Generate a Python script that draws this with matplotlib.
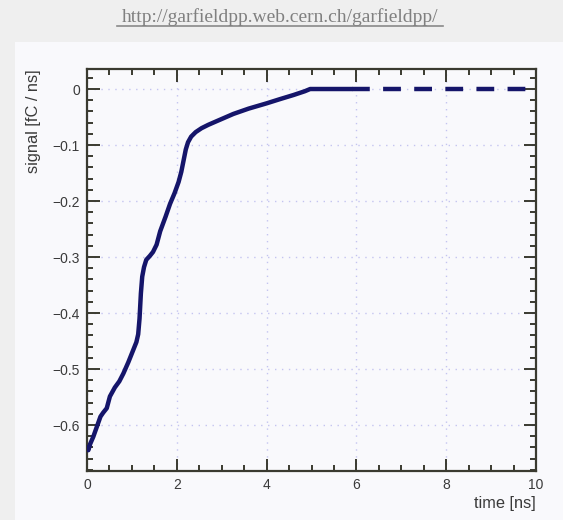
import numpy as np
import matplotlib.pyplot as plt
from matplotlib.ticker import MultipleLocator, FuncFormatter
from matplotlib.lines import Line2D

plt.rcParams['font.family'] = ['Liberation Sans', 'DejaVu Sans']

# induced signal on the wire, read out in fC/ns
time = [0.0, 0.03, 0.07, 0.14, 0.22, 0.3, 0.36, 0.44, 0.51, 0.62, 0.72,
        0.81, 0.92, 1.03, 1.1, 1.14, 1.17, 1.2, 1.23, 1.27, 1.32, 1.4,
        1.47, 1.55, 1.63, 1.75, 1.85, 1.95, 2.04, 2.1, 2.15, 2.2, 2.25,
        2.32, 2.42, 2.55, 2.7, 2.9, 3.26, 3.6, 4.0, 4.3, 4.6, 4.85, 4.97, 5.9]
signal = [-0.640, -0.645, -0.634, -0.621, -0.603, -0.585, -0.578, -0.570,
          -0.549, -0.533, -0.522, -0.508, -0.488, -0.466, -0.452, -0.438,
          -0.410, -0.365, -0.335, -0.318, -0.305, -0.298, -0.291, -0.278,
          -0.254, -0.228, -0.205, -0.186, -0.166, -0.148, -0.128, -0.108,
          -0.095, -0.085, -0.077, -0.070, -0.064, -0.057, -0.0445, -0.035,
          -0.0256, -0.018, -0.0107, -0.004, 0.0, 0.0]
# flat tail after the drift is over
tail_time = [5.9, 10.0]
tail_signal = [0.0, 0.0]

url = 'http://garfieldpp.web.cern.ch/garfieldpp/'

fig = plt.figure(figsize=(5.63, 5.2), dpi=100)
fig.patch.set_facecolor('#efefef')

# light panel behind the plot
panel = fig.add_axes([15 / 563, 0, 1 - 15 / 563, 1 - 42 / 520])
panel.set_facecolor('#f9f9fc')
panel.set_xticks([])
panel.set_yticks([])
for s in panel.spines.values():
    s.set_visible(False)

fig.text(280 / 563, 1 - 17 / 520, url, ha='center', va='center',
         fontsize=14, color='#808080', family=['Liberation Serif', 'DejaVu Serif'])
fig.add_artist(Line2D([117 / 563, 443 / 563], [1 - 25.5 / 520, 1 - 25.5 / 520],
                      color='#8a8a8a', lw=1.2, transform=fig.transFigure))

ax = fig.add_axes([87 / 563, 1 - 470.7 / 520, 449 / 563, 401.4 / 520])
ax.set_facecolor('#f9f9fc')
ax.set_xlim(0, 10)
ax.set_ylim(-0.6816, 0.0352)

ax.xaxis.set_major_locator(MultipleLocator(2))
ax.xaxis.set_minor_locator(MultipleLocator(0.5))
ax.yaxis.set_major_locator(MultipleLocator(0.1))
ax.yaxis.set_minor_locator(MultipleLocator(0.02))

def fmt(v, pos):
    if abs(v) < 1e-9:
        return '0'
    return ('%g' % v).replace('-', '\u2212')

ax.xaxis.set_major_formatter(FuncFormatter(fmt))
ax.yaxis.set_major_formatter(FuncFormatter(fmt))

spine_col = '#3a3a30'
for s in ax.spines.values():
    s.set_color(spine_col)
    s.set_linewidth(1.6)

ax.tick_params(which='both', direction='in', top=True, right=True,
               color=spine_col, width=1.4, labelsize=10, labelcolor='#3a3a3a')
ax.tick_params(which='major', length=9, pad=5)
ax.tick_params(which='minor', length=4.5)

ax.grid(True, which='major', linestyle=(0, (1, 4)), color='#c4c4f0', lw=1.0)
ax.set_axisbelow(True)

ax.plot(time, signal, color='#15156a', lw=3.2, solid_capstyle='round',
        solid_joinstyle='round', zorder=3)
ax.plot(tail_time, tail_signal, color='#15156a', lw=3.2,
        linestyle=(0, (4, 3)), zorder=3)

ax.set_xlabel('time [ns]', fontsize=11.8, color='#3a3a3a', loc='right', labelpad=3)
ax.set_ylabel('signal [fC / ns]', fontsize=11.8, color='#3a3a3a', loc='top', labelpad=8)

fig.savefig('out.png', dpi=100, facecolor=fig.get_facecolor())
